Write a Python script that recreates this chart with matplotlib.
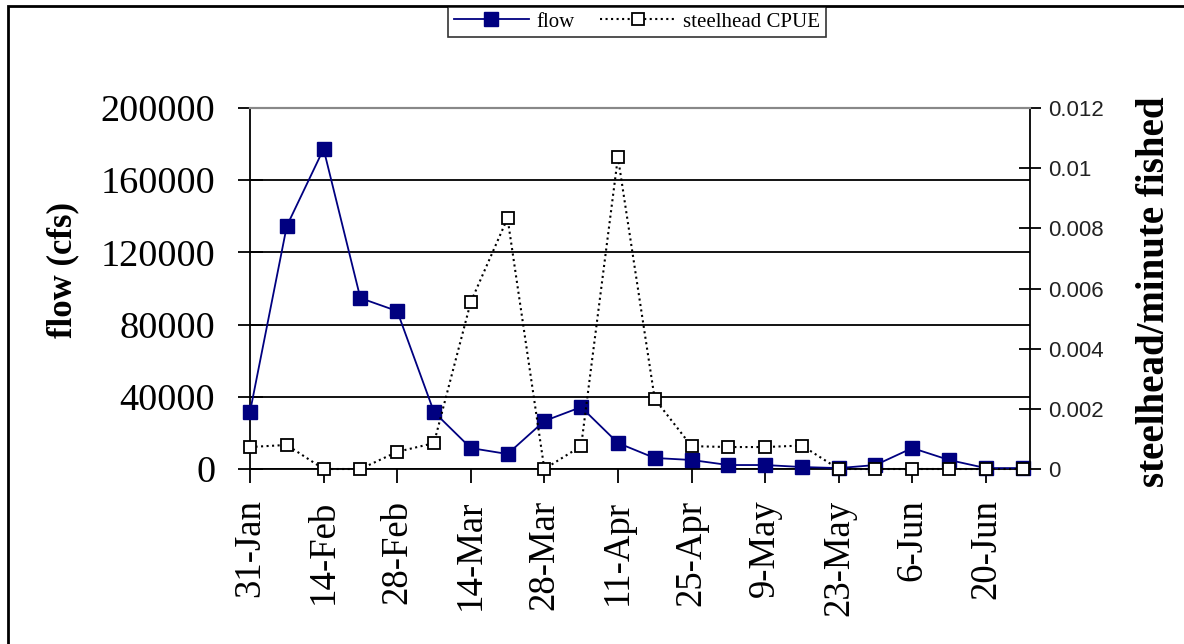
import numpy as np
import matplotlib
matplotlib.use("Agg")
import matplotlib.pyplot as plt
from matplotlib.patches import Rectangle

# weekly sampling dates
dates = ["31-Jan", "7-Feb", "14-Feb", "21-Feb", "28-Feb", "7-Mar", "14-Mar",
         "21-Mar", "28-Mar", "4-Apr", "11-Apr", "18-Apr", "25-Apr", "2-May",
         "9-May", "16-May", "23-May", "30-May", "6-Jun", "13-Jun", "20-Jun",
         "27-Jun"]

# river flow (cfs)
flow = [31600, 134600, 177300, 94700, 87500, 31600, 11600, 8300, 26600, 34300,
        14400, 6100, 5000, 2200, 2200, 1100, 500, 2200, 11600, 5000, 500, 500]

# steelhead per minute fished
cpue = [0.00073, 0.0008, 0.0, 0.0, 0.00057, 0.00086, 0.00555, 0.00834, 0.0,
        0.00076, 0.01037, 0.00233, 0.00076, 0.00073, 0.00073, 0.00078, 0.0,
        0.0, 0.0, 0.0, 0.0, 0.0]

serif = "Liberation Serif"
sans = "Liberation Sans"

fig = plt.figure(figsize=(11.84, 6.44), dpi=100)
ax = fig.add_axes([250 / 1184, 1 - 469 / 644, 780 / 1184, 361 / 644])
ax2 = ax.twinx()

x = np.arange(len(dates))

# gridlines
ax.set_axisbelow(True)
ax.yaxis.grid(True, color="black", linewidth=1.3)

l1, = ax.plot(x, flow, color="#000080", linewidth=1.3, marker="s",
              markersize=10, markerfacecolor="#000080",
              markeredgecolor="#000080", label="flow", zorder=3, clip_on=False)
l2, = ax2.plot(x, cpue, color="black", linewidth=1.5, linestyle=":",
               marker="s", markersize=9, markerfacecolor="white",
               markeredgecolor="black", markeredgewidth=1.3,
               label="steelhead CPUE", zorder=3, clip_on=False)

ax.set_xlim(0, 21.2)
ax.set_ylim(0, 200000)
ax2.set_ylim(0, 0.012)

ax.set_yticks(np.arange(0, 200001, 40000))
ax.set_yticklabels([str(v) for v in range(0, 200001, 40000)],
                   family=serif, fontsize=27.5)
ax2.set_yticks(np.arange(0, 0.0121, 0.002))
ax2.set_yticklabels(["0", "0.002", "0.004", "0.006", "0.008", "0.01", "0.012"],
                    family=sans, fontsize=16, color="#222222")

ax.set_xticks(x[::2])
ax.set_xticklabels(dates[::2], rotation=90, family=serif, fontsize=26.5)

ax.tick_params(axis="y", direction="inout", length=18, width=1.3, pad=16)
ax2.tick_params(axis="y", direction="inout", length=16, width=1.3, pad=5)
ax.tick_params(axis="x", direction="out", length=10, width=1.3, pad=12)

for sp in ["left", "bottom"]:
    ax.spines[sp].set_linewidth(1.3)
ax2.spines["right"].set_linewidth(1.3)
ax.spines["right"].set_visible(False)
ax2.spines["left"].set_visible(False)
ax2.spines["bottom"].set_visible(False)
for a in (ax, ax2):
    a.spines["top"].set_color("#888888")
    a.spines["top"].set_linewidth(1.5)

ax.set_ylabel("flow (cfs)", family=serif, fontsize=25, fontweight="bold")
ax.yaxis.set_label_coords(-0.219, 0.55)
ax2.set_ylabel("steelhead/minute fished", family=serif, fontsize=28,
               fontweight="bold")
ax2.yaxis.set_label_coords(1.136, 0.49)

leg = fig.legend(handles=[l1, l2], loc="center", ncol=2,
                 bbox_to_anchor=(0.538, 0.966), prop={"family": serif, "size": 15},
                 frameon=True, fancybox=False, edgecolor="black",
                 handlelength=3.6, columnspacing=1.2, handletextpad=0.4,
                 borderpad=0.25, borderaxespad=0)
leg.get_frame().set_linewidth(1.2)

# chart area border
fig.patches.append(Rectangle((8 / 1184, -0.1), 1.2, 1.1 - 6 / 644,
                             transform=fig.transFigure, fill=False,
                             edgecolor="black", linewidth=2, clip_on=False))

fig.savefig("out.png", dpi=100)
